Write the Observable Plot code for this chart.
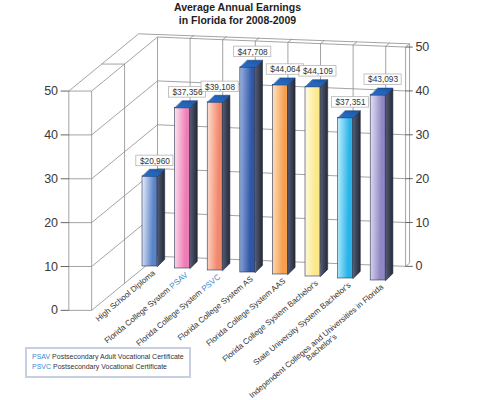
<!DOCTYPE html>
<html><head><meta charset="utf-8">
<script src="https://cdn.jsdelivr.net/npm/d3@7"></script>
<script src="https://cdn.jsdelivr.net/npm/@observablehq/plot@0.6"></script>
<style>
body{margin:0;background:#fff;font-family:"Liberation Sans",Arial,sans-serif;}
#wrap{position:relative;width:500px;height:400px;overflow:hidden}
#title{position:absolute;left:0;top:1px;width:475px;text-align:center;font-weight:bold;font-size:10.5px;line-height:13px;color:#1e1e1e}
#chart{position:absolute;left:0;top:32px}
#legend{position:absolute;left:25px;top:347px;border:2px solid #c8cfe2;padding:3px 5px 4px 5px;font-size:7px;line-height:10px;color:#333;background:#fff;white-space:nowrap}
.ab{color:#3b8ad0}
</style></head><body>
<div id="wrap">
<div id="title">Average Annual Earnings<br>in Florida for 2008-2009</div>
<div id="chart"></div>
<div id="legend"><span class="ab">PSAV</span> Postsecondary Adult Vocational Certificate<br><span class="ab">PSVC</span> Postsecondary Vocational Certificate</div>
</div>
<script>
// ---- data ----
const categories = [
  "High School Diploma",
  "Florida College System PSAV",
  "Florida College System PSVC",
  "Florida College System AS",
  "Florida College System AAS",
  "Florida College System Bachelor's",
  "State University System Bachelor's",
  "Independent Colleges and Universities in Florida\nBachelor's"
];
const earnings = [20960, 37356, 39108, 47708, 44064, 44109, 37351, 43093];
const tickValues = [0, 10, 20, 30, 40, 50];

// ---- styles ----
const frontLight = ["#e9eef9", "#fbe4ef", "#fde2d4", "#9db3e0", "#fde3c6", "#fffbe3", "#c2effc", "#e6e2f3"];
const frontBase  = ["#5a84c8", "#ee7db6", "#f2876b", "#2f57a8", "#f6a04f", "#fae88a", "#28b3e9", "#8f86c4"];
const gridColor = "#8c8c8c";

// ---- 3D layout (in scale units) ----
const F0 = {u: -1.79, v: -10.2}, W = {u: 7.61, v: -2.33}, D = {u: 2.02, v: 12.56}, T = {u: -0.70, v: 0};
const fv = 1.02, back = 0.06;
const P = (s, val, z, t = 0) => ({x: F0.u + s*W.u + z*D.u + t*T.u, y: F0.v + s*W.v + z*D.v + fv*val + t*T.v});
const seg = (a, b) => ({x1: a.x, y1: a.y, x2: b.x, y2: b.y});
const vmax = d3.max(tickValues);

const frame = [];
frame.push(seg(P(0,0,0,1), P(0,vmax,0,1)));
frame.push(seg(P(0,0,0), P(0,vmax,0)));
frame.push(seg(P(0,vmax,0,1), P(0,vmax,1+back,1)));
frame.push(seg(P(0,vmax,0), P(0,vmax,1)));
frame.push(seg(P(0,vmax,0.5,1), P(0,vmax,0.5)));
frame.push(seg(P(0,0,0.5), P(0,vmax,0.5)));
frame.push(seg(P(0,0,1), P(0,vmax,1)));
for (const val of tickValues) {
  if (val < vmax) frame.push(seg(P(0,val,0), P(0,val,1)));
  frame.push(seg(P(0,val,0,1), P(0,val,0)));
  frame.push(seg(P(0,val,1), P(1,val,1)));
}
for (let k = 1; k < categories.length; k++) {
  const s = k / W.u;
  frame.push(seg(P(s,0,1), P(s,vmax,1)));
  frame.push(seg(P(s,vmax,1), P(s,vmax,1+back)));
}
frame.push(seg(P(0,vmax,1+back,1), P(1,vmax,1+back)));
frame.push(seg(P(1,0,1), P(1,vmax,1)));
frame.push(seg(P(1,vmax,1), P(1,vmax,1+back)));
frame.push(seg(P(1,vmax,1+back), P(1,0,1+back)));
frame.push(seg(P(1,0,1), P(1,0,1+back)));

const leftTicks = tickValues.map(val => { const p = P(0,val,0,1); return {val, x1: p.x - 0.25, x2: p.x, y: p.y, lx: p.x - 0.33}; });
const rightTicks = tickValues.map(val => { const p = P(1,val,1); return {val, x1: p.x, x2: p.x + 0.22, y: p.y, lx: p.x + 0.3}; });

// ---- bars ----
const hw = 0.23, bd = {u: 0.22, v: 1.65}, slope = -0.465;
const bars = categories.map((c, i) => {
  const b = slope * i, t = b + earnings[i] / 1000;
  return {i, c, b, t, label: d3.format("$,")(earnings[i])};
});
const sidePts = bars.flatMap(d => [[d.i+hw, d.b], [d.i+hw+bd.u, d.b+bd.v], [d.i+hw+bd.u, d.t+bd.v], [d.i+hw, d.t]].map(([x, y]) => ({id: d.i, x, y})));
const topPts = bars.flatMap(d => [[d.i-hw, d.t], [d.i+hw, d.t], [d.i+hw+bd.u, d.t+bd.v], [d.i-hw+bd.u, d.t+bd.v]].map(([x, y]) => ({id: d.i, x, y})));
const lbw = 0.57, lbh = 1.22;

const svg = Plot.plot({
  width: 500, height: 368,
  marginTop: 0, marginRight: 0, marginBottom: 0, marginLeft: 0,
  x: {type: "linear", domain: [-4.586, 10.751], axis: null},
  y: {type: "linear", domain: [-31.163, 54.419], axis: null},
  color: {type: "identity"},
  style: {fontFamily: "Liberation Sans, Arial, sans-serif", background: "transparent"},
  marks: [
    Plot.link(frame, {x1: "x1", y1: "y1", x2: "x2", y2: "y2", stroke: gridColor, strokeWidth: 0.8}),
    Plot.link(leftTicks, {x1: "x1", x2: "x2", y1: "y", y2: "y", stroke: "#555", strokeWidth: 0.9}),
    Plot.text(leftTicks, {x: "lx", y: "y", text: d => String(d.val), textAnchor: "end", fontSize: 12.5, fill: "#3a3a3a"}),
    Plot.link(rightTicks, {x1: "x1", x2: "x2", y1: "y", y2: "y", stroke: "#555", strokeWidth: 0.9}),
    Plot.text(rightTicks, {x: "lx", y: "y", text: d => String(d.val), textAnchor: "start", fontSize: 12.5, fill: "#3a3a3a"}),
    Plot.rect(bars, {x1: d => d.i - hw, x2: d => d.i + hw, y1: "b", y2: "t", fill: d => `url(#front${d.i})`, stroke: "#2c3650", strokeWidth: 0.6}),
    Plot.line(sidePts, {x: "x", y: "y", z: "id", fill: "url(#side)", stroke: "#20263a", strokeWidth: 0.6, curve: "linear-closed"}),
    Plot.line(topPts, {x: "x", y: "y", z: "id", fill: "url(#top)", stroke: "#1d3f7a", strokeWidth: 0.6, curve: "linear-closed"}),
    Plot.rect(bars, {x1: d => d.i + 0.15 - lbw, x2: d => d.i + 0.15 + lbw, y1: d => d.t + 3.6 - lbh, y2: d => d.t + 3.6 + lbh, fill: "white", stroke: "#b5b5b5", strokeWidth: 0.8}),
    Plot.text(bars, {x: d => d.i + 0.15, y: d => d.t + 3.6, text: "label", fontSize: 8.3, fill: "#333"}),
    Plot.text(bars, {x: "i", y: "b", text: "c", rotate: -40, textAnchor: "end", lineAnchor: "top", dx: 2, dy: 3, fontSize: 8, fill: "#333"})
  ]
});

const defs = d3.select(svg).insert("defs", ":first-child");
bars.forEach((d, i) => {
  const g = defs.append("linearGradient").attr("id", `front${i}`).attr("x1", 0).attr("y1", 0).attr("x2", 1).attr("y2", 0.15);
  g.append("stop").attr("offset", 0).attr("stop-color", frontLight[i]);
  g.append("stop").attr("offset", 0.8).attr("stop-color", frontBase[i]);
});
{
  const g = defs.append("linearGradient").attr("id", "side").attr("x1", 0).attr("y1", 0).attr("x2", 1).attr("y2", 0);
  g.append("stop").attr("offset", 0).attr("stop-color", "#535a72");
  g.append("stop").attr("offset", 1).attr("stop-color", "#252a38");
  const h = defs.append("linearGradient").attr("id", "top").attr("x1", 0).attr("y1", 1).attr("x2", 1).attr("y2", 0);
  h.append("stop").attr("offset", 0).attr("stop-color", "#2c70c8");
  h.append("stop").attr("offset", 1).attr("stop-color", "#1a55a8");
}
document.getElementById("chart").appendChild(svg);

// colour the abbreviations and centre the second line of the long label
d3.select(svg).selectAll("text").each(function () {
  const t = this.textContent;
  const m = t.match(/^(.*)(PSAV|PSVC)$/);
  if (m && !this.querySelector("tspan")) {
    const el = d3.select(this);
    el.text(null);
    el.append("tspan").text(m[1]);
    el.append("tspan").attr("fill", "#3b8ad0").text(m[2]);
  }
  if (t.startsWith("Independent")) {
    const spans = this.querySelectorAll("tspan");
    if (spans.length === 2) {
      const l1 = spans[0].getComputedTextLength(), l2 = spans[1].getComputedTextLength();
      spans[0].setAttribute("x", 0);
      spans[1].setAttribute("x", -(l1 - l2) / 2);
    }
  }
});
</script>
</body></html>
